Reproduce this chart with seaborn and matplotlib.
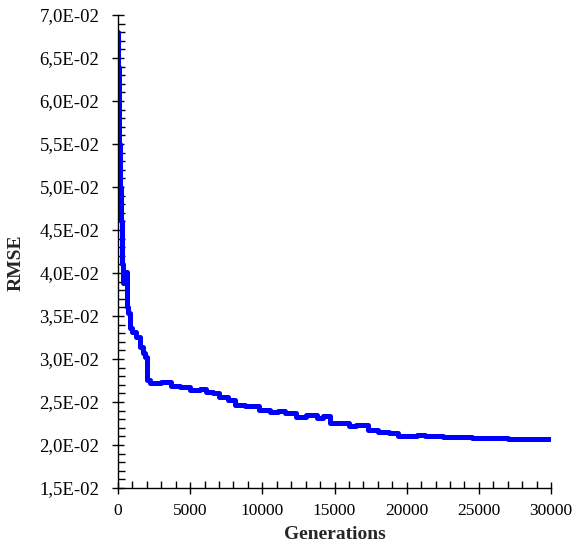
import matplotlib
matplotlib.use("Agg")
import matplotlib.pyplot as plt
import seaborn as sns
import pandas as pd
from matplotlib.ticker import MultipleLocator, FuncFormatter

generations = [0, 20, 50, 100, 150, 200, 250, 300, 350, 400, 620, 700, 850, 1000,
               1250, 1500, 1750, 1900, 1990, 2200, 3000, 3700, 4300, 5000, 5700,
               6100, 6600, 7000, 7600, 8100, 8800, 9800, 10500, 11100, 11600,
               12300, 13000, 13800, 14200, 14700, 16000, 16500, 17300, 18000,
               18800, 19400, 20700, 21300, 22500, 24500, 27000, 30000]
rmse = [0.0680, 0.0640, 0.0590, 0.0550, 0.0500, 0.0460, 0.0425, 0.0410, 0.0388,
        0.0401, 0.0361, 0.0354, 0.0336, 0.0331, 0.0326, 0.0314, 0.0307, 0.0302,
        0.0276, 0.0272, 0.0273, 0.0269, 0.0267, 0.0264, 0.0265, 0.0262, 0.0260,
        0.0256, 0.0252, 0.0247, 0.0245, 0.0241, 0.0238, 0.0239, 0.0237, 0.0233,
        0.0235, 0.0231, 0.0234, 0.0226, 0.0222, 0.0223, 0.0217, 0.0215, 0.0214,
        0.0210, 0.0212, 0.0210, 0.0209, 0.0208, 0.0207, 0.0207]

df = pd.DataFrame({"Generations": generations, "RMSE": rmse})

sns.set_style("ticks")
plt.rcParams["font.family"] = ["Liberation Serif", "DejaVu Serif"]

fig = plt.figure(figsize=(5.74, 5.43), dpi=100)
ax = fig.add_axes([0.2056, 0.1013, 0.7544, 0.8711])

sns.lineplot(data=df, x="Generations", y="RMSE", ax=ax, color="#0000ff",
             linewidth=3.6, drawstyle="steps-post", estimator=None)

ax.set_xlim(0, 30000)
ax.set_ylim(0.015, 0.070)
ax.xaxis.set_major_locator(MultipleLocator(5000))
ax.xaxis.set_minor_locator(MultipleLocator(1000))
ax.yaxis.set_major_locator(MultipleLocator(0.005))
ax.yaxis.set_minor_locator(MultipleLocator(0.001))

def yfmt(v, pos):
    return f"{v:.1E}".replace(".", ",")

ax.yaxis.set_major_formatter(FuncFormatter(yfmt))

ax.tick_params(axis="both", which="major", direction="inout", length=9, width=1,
               color="black", labelcolor="black")
ax.tick_params(axis="x", which="major", labelsize=12.5, pad=6)
ax.tick_params(axis="y", which="major", labelsize=13.5, pad=9)
ax.tick_params(axis="both", which="minor", direction="in", length=5, width=1,
               color="black")

for s in ["top", "right"]:
    ax.spines[s].set_visible(False)
for s in ["left", "bottom"]:
    ax.spines[s].set_color("black")
    ax.spines[s].set_linewidth(1)

ax.set_xlabel("Generations", fontsize=14, fontweight="bold", labelpad=5)
ax.set_ylabel("RMSE", fontsize=14, fontweight="bold")
ax.yaxis.set_label_coords(0.043, 0.517, transform=fig.transFigure)

fig.savefig("out.png", dpi=100)
